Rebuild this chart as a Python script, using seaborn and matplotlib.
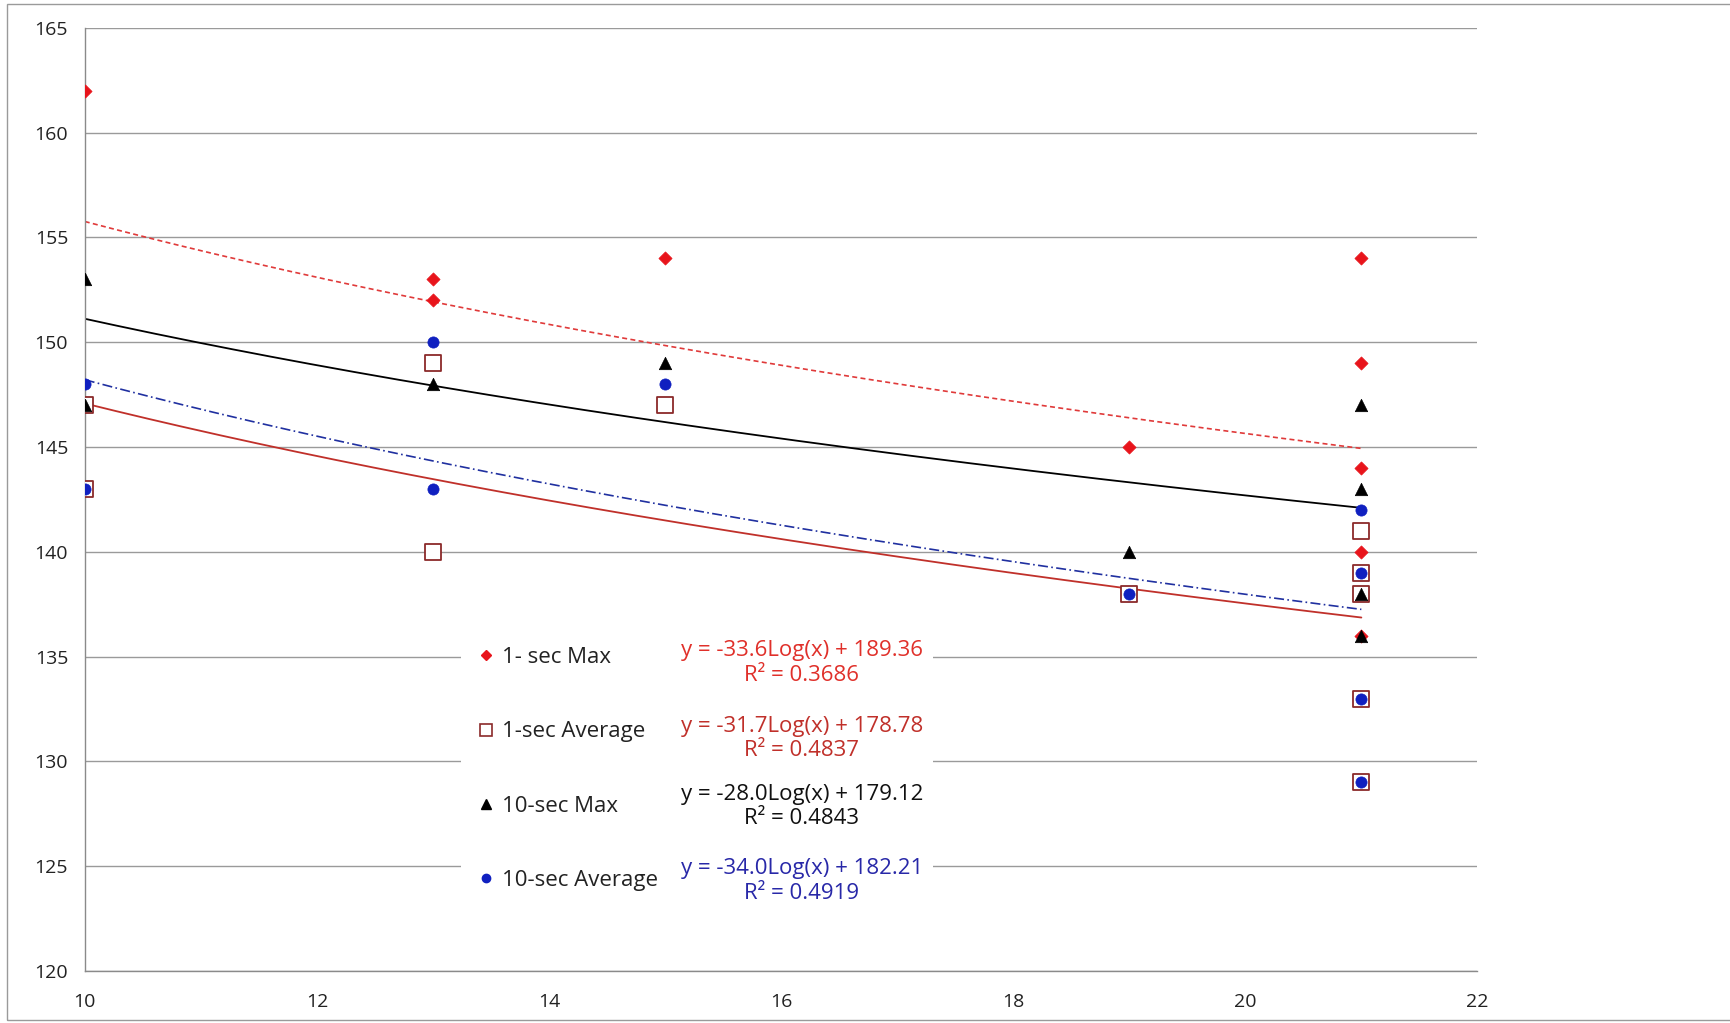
"""Scatter of max/average values with log10 trendlines (Excel-style chart)."""

import matplotlib.pyplot as plt
import numpy as np
import pandas as pd
import seaborn as sns
from matplotlib.patches import Rectangle

# ---- data ----
max1_x = [10, 13, 13, 15, 19, 21, 21, 21, 21, 21]
max1_y = [162, 153, 152, 154, 145, 154, 149, 144, 140, 136]

avg1_x = [10, 10, 13, 13, 15, 19, 21, 21, 21, 21, 21]
avg1_y = [147, 143, 149, 140, 147, 138, 141, 139, 138, 133, 129]

max10_x = [10, 10, 13, 15, 19, 21, 21, 21, 21]
max10_y = [153, 147, 148, 149, 140, 147, 143, 138, 136]

avg10_x = [10, 10, 13, 13, 15, 19, 21, 21, 21, 21]
avg10_y = [148, 143, 150, 143, 148, 138, 142, 139, 133, 129]

series_names = ["1- sec Max", "1-sec Average", "10-sec Max", "10-sec Average"]
# trendline y = slope*Log(x) + intercept, as printed on the chart
slopes = [-33.6, -31.7, -28.0, -34.0]
intercepts = [189.36, 178.78, 179.12, 182.21]
r_squared = ["0.3686", "0.4837", "0.4843", "0.4919"]

x_ticks = [10, 12, 14, 16, 18, 20, 22]
y_ticks = [120, 125, 130, 135, 140, 145, 150, 155, 160, 165]

# ---- styling ----
sns.set_theme(style="white")
plt.rcParams["font.family"] = ["Open Sans", "DejaVu Sans"]

fig = plt.figure(figsize=(17.3, 10.23), dpi=100)
ax = fig.add_axes([0.049, 0.0508, 0.805, 0.922])

# thin chart-area border
fig.patches.append(Rectangle((0.004, 0.003), 1.2, 0.993, transform=fig.transFigure,
                             fill=False, edgecolor="#9a9a9a", lw=1.0))

styles = [
    dict(marker="D", color="#e8141b", edgecolor="#e8141b", s=45, lw=0.5),
    dict(marker="s", color="white", edgecolor="#8b2a2a", s=130, lw=1.3),
    dict(marker="^", color="black", edgecolor="black", s=80, lw=0.5),
    dict(marker="o", color="#1020c0", edgecolor="#1020c0", s=65, lw=0.5),
]
line_styles = [
    dict(color="#e03a3a", ls=(0, (3, 2)), lw=1.2),
    dict(color="#c0302a", ls="-", lw=1.3),
    dict(color="black", ls="-", lw=1.3),
    dict(color="#2030a0", ls=(0, (6, 2, 1, 2)), lw=1.2),
]
text_colors = ["#e0302a", "#c0302a", "#111111", "#2828a8"]

data = [(max1_x, max1_y), (avg1_x, avg1_y), (max10_x, max10_y), (avg10_x, avg10_y)]

# trendlines first (under the markers)
for i, (xs, _) in enumerate(data):
    xf = np.linspace(min(xs), max(xs), 200)
    fit = pd.DataFrame({"x": xf, "y": slopes[i] * np.log10(xf) + intercepts[i]})
    sns.lineplot(data=fit, x="x", y="y", ax=ax, zorder=2, **line_styles[i])

for i, (xs, ys) in enumerate(data):
    df = pd.DataFrame({"x": xs, "y": ys})
    sns.scatterplot(data=df, x="x", y="y", ax=ax, zorder=3 + i, **styles[i])

ax.set_xlim(10, 22)
ax.set_ylim(120, 165)
ax.set_xticks(x_ticks)
ax.set_yticks(y_ticks)
ax.set_xlabel("")
ax.set_ylabel("")
ax.grid(axis="y", color="#9a9a9a", lw=1.0)
ax.set_axisbelow(True)
for side in ["top", "right"]:
    ax.spines[side].set_visible(False)
for side in ["left", "bottom"]:
    ax.spines[side].set_color("#8a8a8a")
    ax.spines[side].set_linewidth(1.0)
ax.tick_params(axis="both", direction="out", length=6, width=1, color="#8a8a8a",
               labelsize=14, labelcolor="#222222", pad=6)
ax.tick_params(axis="x", pad=10)

# white panel behind legend and equations
ax.add_patch(Rectangle((13.24, 122.6), 4.07, 13.6, facecolor="white",
                       edgecolor="none", zorder=1))

# legend
handles = [
    plt.Line2D([], [], ls="none", marker="D", ms=5, color="#e8141b"),
    plt.Line2D([], [], ls="none", marker="s", ms=9, mfc="white", mec="#8b2a2a", mew=1.2),
    plt.Line2D([], [], ls="none", marker="^", ms=7, color="black"),
    plt.Line2D([], [], ls="none", marker="o", ms=6, color="#1020c0"),
]
leg = ax.legend(handles, series_names, loc="upper left", bbox_to_anchor=(0.272, 0.360),
                frameon=False, fontsize=16, handlelength=0.6, handletextpad=0.45,
                labelspacing=2.4, borderpad=0.2)
for t in leg.get_texts():
    t.set_color("#222222")

# trendline equations
eq_y = [134.7, 131.1, 127.85, 124.3]
for i in range(4):
    ax.text(16.18, eq_y[i],
            f"y = {slopes[i]:.1f}Log(x) + {intercepts[i]:.2f}\nR² = {r_squared[i]}",
            ha="center", va="center", fontsize=16, color=text_colors[i],
            linespacing=1.2, zorder=6)

fig.savefig("out.png", dpi=100)
